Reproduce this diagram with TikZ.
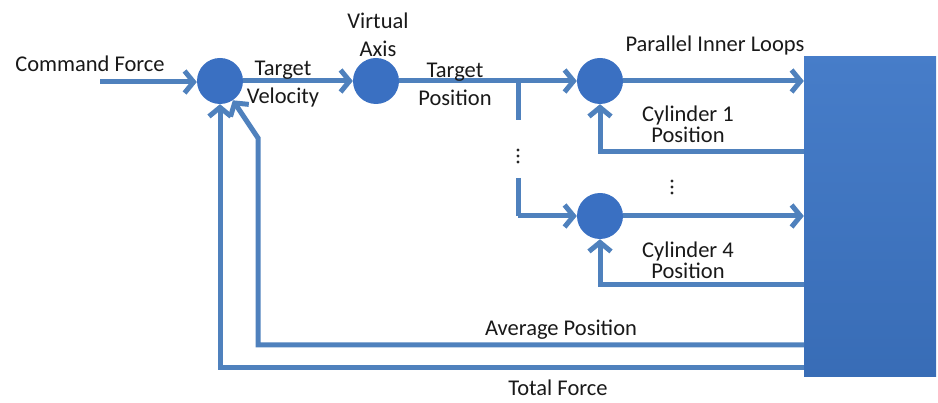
\documentclass[tikz,border=0pt]{standalone}
\usepackage{fontspec}
\setmainfont{Carlito}
\usetikzlibrary{arrows.meta}
\definecolor{lineblue}{HTML}{4F81BD}
\definecolor{fillblue}{HTML}{3A70C2}
\definecolor{plantblue}{HTML}{3D76C6}
\tikzset{
  sum/.style={circle, fill=fillblue, draw=none, minimum size=46pt, inner sep=0pt},
  plant/.style={rectangle, draw=none, top color=plantblue!95!white, bottom color=plantblue!92!black, inner sep=0pt},
  wire/.style={draw=lineblue, line width=5pt},
  arr/.style={wire, -{Straight Barb[length=9pt,width=22pt]}},
  lbl/.style={font=\fontsize{22.5}{28}\selectfont, text=black!90, align=center, inner sep=0pt},
  tightlbl/.style={lbl, font=\fontsize{22.5}{21}\selectfont},
  dot/.style={circle, fill=black!85, inner sep=0pt, minimum size=3.2pt},
}
\begin{document}
\begin{tikzpicture}[x=1pt,y=-1pt]
\useasboundingbox (0,0) rectangle (938,403);
% blocks
\node[sum] (s1) at (220,81) {};
\node[sum] (va) at (376,81) {};
\node[sum] (c1) at (600,81) {};
\node[sum] (c4) at (600,216) {};
\node[plant, minimum width=132pt, minimum height=320pt] (p) at (870,217) {};
% coordinates
\coordinate (cf) at (100,82);
\coordinate (br) at (518,81);
\coordinate (brA) at (518,120);
\coordinate (brB) at (518,178);
\coordinate (brC) at (518,216);
\coordinate (f1) at (804,152);
\coordinate (f4) at (804,285);
\coordinate (fa) at (804,345);
\coordinate (faA) at (258,345);
\coordinate (faB) at (258,138);
\coordinate (ft) at (804,368);
% connectors
\draw[arr] (cf) -- (cf -| s1.west);
\draw[arr] (s1) -- (va);
\draw[arr] (va) -- (c1);
\draw[wire] (br) -- (brA);
\draw[wire] (brB) -- (brC);
\draw[arr] (brC) -- (c4);
\draw[arr] (c1) -- (c1 -| p.west);
\draw[arr] (c4) -- (c4 -| p.west);
\draw[arr] (f1) -| (c1.south);
\draw[arr] (f4) -| (c4.south);
\draw[arr] (fa) -- (faA) -- (faB) -- (s1);
\draw[arr] (ft) -| (s1.south);
% dots
\node[dot] (d1) at (518,150) {};
\node[dot] (d2) at (518,156) {};
\node[dot] (d3) at (518,162) {};
\node[dot] (d4) at (672,181) {};
\node[dot] (d5) at (672,187) {};
\node[dot] (d6) at (672,193) {};
% labels
\node[lbl] (l1) at (90,64) {Command Force};
\node[lbl] (l2) at (283,84) {Target\\Velocity};
\node[lbl] (l3) at (378,35) {Virtual\\Axis};
\node[lbl] (l4) at (455,84) {Target\\Position};
\node[lbl] (l5) at (715,46) {Parallel Inner Loops};
\node[tightlbl] (l6) at (688,124) {Cylinder 1\\Position};
\node[tightlbl] (l7) at (688,260) {Cylinder 4\\Position};
\node[lbl] (l8) at (561,330) {Average Position};
\node[lbl] (l9) at (558,388) {Total Force};
\end{tikzpicture}
\end{document}
